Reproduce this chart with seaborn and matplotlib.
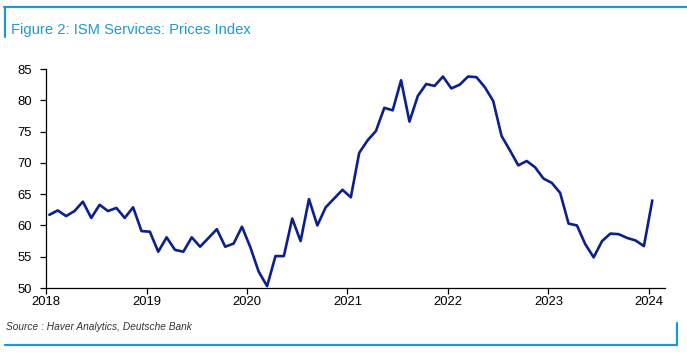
import numpy as np
import pandas as pd
import seaborn as sns
import matplotlib.pyplot as plt
from matplotlib.lines import Line2D

# monthly ISM services prices index, Jan 2018 - Jan 2024
prices_2018 = [61.7, 62.4, 61.5, 62.3, 63.8, 61.2, 63.3, 62.3, 62.8, 61.2, 62.9, 59.1]
prices_2019 = [59.0, 55.8, 58.1, 56.1, 55.8, 58.1, 56.6, 58.0, 59.4, 56.6, 57.1, 59.8]
prices_2020 = [56.5, 52.6, 50.3, 55.1, 55.1, 61.1, 57.5, 64.2, 60.0, 62.9, 64.3, 65.7]
prices_2021 = [64.5, 71.6, 73.6, 75.1, 78.8, 78.4, 83.2, 76.6, 80.7, 82.6, 82.3, 83.8]
prices_2022 = [81.9, 82.5, 83.8, 83.7, 82.1, 79.9, 74.3, 72.0, 69.6, 70.3, 69.3, 67.5]
prices_2023 = [66.8, 65.2, 60.3, 60.0, 57.0, 54.9, 57.5, 58.7, 58.6, 58.0, 57.6, 56.7]
prices_2024 = [64.0]

year_ticks = [2018, 2019, 2020, 2021, 2022, 2023, 2024]
y_ticks = [50, 55, 60, 65, 70, 75, 80, 85]

prices = prices_2018 + prices_2019 + prices_2020 + prices_2021 + prices_2022 + prices_2023 + prices_2024
months = pd.date_range('2018-01-01', periods=len(prices), freq='MS')
df = pd.DataFrame({'date': months, 'price': prices})
df['x'] = df['date'].dt.year + (df['date'].dt.month - 1 + 0.4) / 12

sns.set_style("white")
plt.rcParams['font.family'] = ['Liberation Sans', 'DejaVu Sans']

fig = plt.figure(figsize=(6.87, 3.54), dpi=100)
ax = fig.add_axes([0.067, 0.1864, 0.901, 0.6186])

sns.lineplot(data=df, x='x', y='price', ax=ax, color='#0b1f8e', linewidth=1.9)

ax.set_xlim(2018, 2024.16)
ax.set_ylim(50, 85)
ax.set_xticks(year_ticks)
ax.set_xticklabels([str(y) for y in year_ticks])
ax.set_yticks(y_ticks)
ax.set_xlabel('')
ax.set_ylabel('')
ax.tick_params(axis='both', direction='out', length=4, width=0.9, labelsize=9.4,
               colors='black', bottom=True, left=True)
ax.tick_params(axis='y', pad=6)
ax.tick_params(axis='x', pad=2)
for side in ['top', 'right']:
    ax.spines[side].set_visible(False)
for side in ['left', 'bottom']:
    ax.spines[side].set_color('black')
    ax.spines[side].set_linewidth(0.9)

blue = '#1e98d4'
# frame lines
fig.add_artist(Line2D([0.006, 1.0], [0.980, 0.980], color=blue, lw=1.6))
fig.add_artist(Line2D([0.0073, 0.0073], [0.980, 0.895], color=blue, lw=1.6))
fig.add_artist(Line2D([0.007, 0.985], [0.0254, 0.0254], color=blue, lw=1.6))
fig.add_artist(Line2D([0.985, 0.985], [0.0254, 0.0876], color=blue, lw=1.6))

fig.text(0.016, 0.905, 'Figure 2: ISM Services: Prices Index', color=blue, fontsize=10.6,
         family=['Liberation Sans Narrow', 'Liberation Sans', 'DejaVu Sans'], va='baseline')
fig.text(0.009, 0.067, 'Source : Haver Analytics, Deutsche Bank', color='#333333', fontsize=7.3,
         style='italic', family=['Liberation Sans Narrow', 'Liberation Sans', 'DejaVu Sans'],
         va='baseline')

fig.savefig('out.png', dpi=100)
